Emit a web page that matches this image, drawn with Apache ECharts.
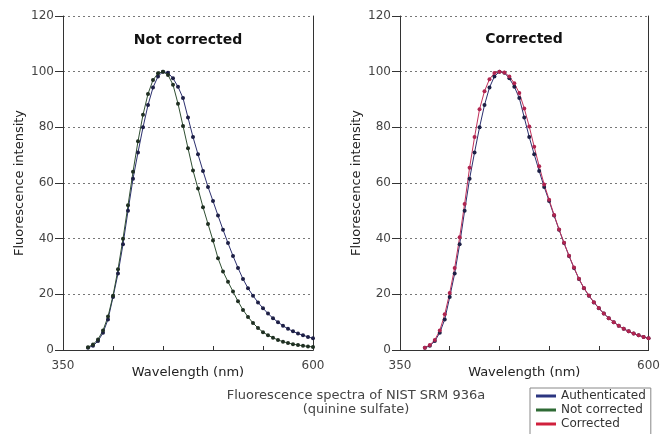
<!DOCTYPE html>
<html>
<head>
<meta charset="utf-8">
<script src="https://cdn.jsdelivr.net/npm/echarts@6/dist/echarts.min.js"></script>
<style>html,body{margin:0;padding:0;background:#fff}#c{width:663px;height:434px}</style>
</head>
<body>
<div id="c"></div>
<script>
var wavelengths = [375,380,385,390,395,400,405,410,415,420,425,430,435,440,445,450,455,460,465,470,475,480,485,490,495,500,505,510,515,520,525,530,535,540,545,550,555,560,565,570,575,580,585,590,595,600];
var authenticated = [0.8,1.5,3.2,6.2,11,19,27.5,38,50,61.5,71,80,88,94.3,98.3,100,99.6,97.6,94.6,90.5,83.5,76.5,70.3,64.3,58.6,53.5,48.3,43.2,38.4,33.8,29.5,25.5,22.2,19.5,17.1,15,13.1,11.4,10,8.7,7.6,6.7,5.9,5.3,4.7,4.2];
var notCorrected = [1,2,3.8,7,12,19.5,29,40,52,64,75,84.5,92,97,99.4,100,98.8,95.3,88.5,80.5,72.5,64.5,58,51.3,45.3,39.3,33,28.2,24.5,21,17.5,14.4,11.9,9.7,7.9,6.4,5.3,4.4,3.6,3.0,2.5,2.1,1.8,1.5,1.3,1.1];
var corrected = [0.8,1.8,3.6,7,12.8,20.5,29.5,40.5,52.5,65.5,76.5,86.5,93,97.3,99.5,100,99.7,98.3,95.8,92.3,86.8,80.3,73,66,59.5,54,48.5,43.3,38.5,33.9,29.6,25.6,22.3,19.6,17.2,15.1,13.1,11.4,10,8.7,7.6,6.7,5.9,5.3,4.7,4.2];
var yTicks = [0,20,40,60,80,100,120];
var xEnds = [350,600];
var panelTitles = ['Not corrected','Corrected'];
var seriesNames = ['Authenticated','Not corrected','Corrected'];
var captionLines = ['Fluorescence spectra of NIST SRM 936a','(quinine sulfate)'];

function pairs(vals){ return wavelengths.map(function(w,i){ return [w, vals[i]]; }); }

var FONT = "'DejaVu Sans', sans-serif";
var colors = {
  'Authenticated': {line:'#2b2f6e', mark:'#1d1f45', legend:'#2b3580'},
  'Not corrected': {line:'#2f4f32', mark:'#1f2f22', legend:'#2e6a35'},
  'Corrected': {line:'#c0305a', mark:'#b02450', legend:'#d0203c'}
};

function xAx(gi){
  return {
    type:'value', gridIndex:gi, min:xEnds[0], max:xEnds[1], interval:50,
    name:'Wavelength (nm)', nameLocation:'middle', nameGap:16, nameMoveOverlap:false,
    nameTextStyle:{color:'#222', fontSize:13, fontFamily:FONT},
    axisLine:{show:true, lineStyle:{color:'#333', width:1}},
    axisTick:{show:true, inside:true, length:4, lineStyle:{color:'#333'}},
    axisLabel:{margin:10, color:'#444', fontSize:12, fontFamily:FONT,
      formatter:function(v){ return (v===xEnds[0]||v===xEnds[1]) ? String(v) : ''; }},
    splitLine:{show:false}
  };
}
function yAx(gi){
  return {
    type:'value', gridIndex:gi, min:yTicks[0], max:yTicks[yTicks.length-1], interval:20,
    name:'Fluorescence intensity', nameLocation:'middle', nameGap:37, nameMoveOverlap:false,
    nameTextStyle:{color:'#222', fontSize:13, fontFamily:FONT},
    axisLine:{show:true, lineStyle:{color:'#333', width:1}},
    axisTick:{show:true, inside:false, length:8, lineStyle:{color:'#333'}},
    axisLabel:{margin:9, color:'#444', fontSize:12, fontFamily:FONT},
    splitLine:{show:true, lineStyle:{color:'#777', type:[2,3], width:1}}
  };
}
function frameX(gi){
  return {type:'value', gridIndex:gi, position:'top', min:0, max:1,
    axisLine:{show:true, lineStyle:{color:'#333', width:1}}, axisTick:{show:false},
    axisLabel:{show:false}, splitLine:{show:false}};
}
function frameY(gi){
  return {type:'value', gridIndex:gi, position:'right', min:0, max:1,
    axisLine:{show:true, lineStyle:{color:'#333', width:1}}, axisTick:{show:false},
    axisLabel:{show:false}, splitLine:{show:false}};
}
function ser(name, vals, gi){
  var c = colors[name];
  return {
    name:name, type:'line', xAxisIndex:gi, yAxisIndex:gi, data:pairs(vals),
    symbol:'circle', symbolSize:4, showSymbol:true,
    lineStyle:{color:c.line, width:1},
    itemStyle:{color:c.mark, borderWidth:0},
    emphasis:{disabled:true}, animation:false
  };
}

var chart = echarts.init(document.getElementById('c'), null, {renderer:'canvas'});
chart.setOption({
  animation:false,
  backgroundColor:'#fff',
  grid:[
    {left:63, right:350, top:16, bottom:84},
    {left:400, right:14, top:16, bottom:84}
  ],
  xAxis:[xAx(0), xAx(1), frameX(0), frameX(1)],
  yAxis:[yAx(0), yAx(1), frameY(0), frameY(1)],
  legend:{
    orient:'vertical', left:530, top:388, width:125, height:80, itemGap:2, itemWidth:20, itemHeight:3,
    icon:'rect', borderColor:'#888', borderWidth:1, padding:[2,5,10,6],
    textStyle:{fontSize:12, color:'#333', fontFamily:FONT},
    data:seriesNames.map(function(n){ return {name:n, itemStyle:{color:colors[n].legend}}; })
  },
  graphic:[
    {type:'text', style:{text:panelTitles[0], x:188, y:40, textAlign:'center', textVerticalAlign:'middle', font:'bold 14px '+FONT, fill:'#111'}},
    {type:'text', style:{text:panelTitles[1], x:524, y:39, textAlign:'center', textVerticalAlign:'middle', font:'bold 14px '+FONT, fill:'#111'}},
    {type:'text', style:{text:captionLines[0], x:356, y:396, textAlign:'center', textVerticalAlign:'middle', font:'13px '+FONT, fill:'#444'}},
    {type:'text', style:{text:captionLines[1], x:356, y:410, textAlign:'center', textVerticalAlign:'middle', font:'13px '+FONT, fill:'#444'}}
  ],
  series:[
    ser('Authenticated', authenticated, 0),
    ser('Not corrected', notCorrected, 0),
    ser('Authenticated', authenticated, 1),
    ser('Corrected', corrected, 1)
  ]
});
</script>
</body>
</html>
